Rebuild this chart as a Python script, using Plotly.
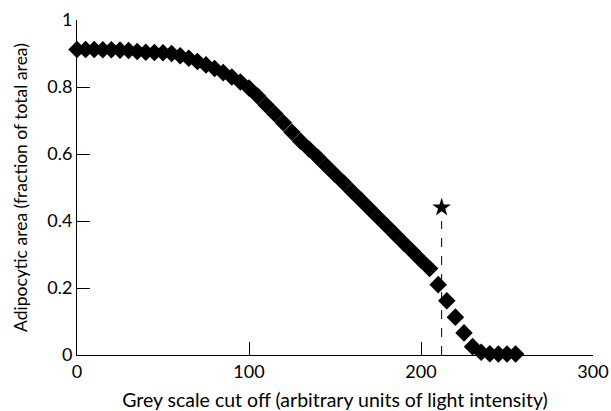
import plotly.graph_objects as go

grey_cutoff = list(range(0, 256, 5))
adipocytic_area = [
    0.912, 0.912, 0.912, 0.911, 0.911, 0.910, 0.909, 0.906, 0.904, 0.903,
    0.902, 0.900, 0.893, 0.886, 0.876, 0.866, 0.855, 0.843, 0.830, 0.815,
    0.797, 0.773, 0.746, 0.720, 0.693, 0.665, 0.638, 0.614, 0.590, 0.564,
    0.539, 0.514, 0.488, 0.463, 0.437, 0.411, 0.386, 0.360, 0.334, 0.309,
    0.283, 0.258, 0.210, 0.162, 0.113, 0.066, 0.025, 0.008, 0.004, 0.003,
    0.003, 0.003,
]
threshold_x = [212]
threshold_line_top = 0.40
star_y = [0.44]

x_ticks = [0, 100, 200, 300]
y_ticks = [0, 0.2, 0.4, 0.6, 0.8, 1]
y_ticklabels = ["0", "0.2", "0.4", "0.6", "0.8", "1"]

font_family = "Lato, 'Open Sans', sans-serif"

fig = go.Figure()
fig.add_trace(go.Scatter(
    x=grey_cutoff, y=adipocytic_area, mode="markers",
    marker=dict(symbol="diamond", size=13.5, color="black", line=dict(width=0)),
    cliponaxis=False, showlegend=False,
))
fig.add_trace(go.Scatter(
    x=threshold_x, y=star_y, mode="markers",
    marker=dict(symbol="star", size=14, color="black", line=dict(width=0)),
    cliponaxis=False, showlegend=False,
))
fig.add_shape(type="line", x0=threshold_x[0], x1=threshold_x[0], y0=0, y1=threshold_line_top,
              xref="x", yref="y", line=dict(color="black", width=1, dash="dash"))

fig.update_layout(
    width=611, height=411,
    margin=dict(l=77, r=18, t=20, b=56),
    paper_bgcolor="white", plot_bgcolor="white",
    font=dict(family=font_family, size=18, color="black"),
    xaxis=dict(
        range=[0, 300], tickvals=x_ticks, showgrid=False, zeroline=False,
        showline=True, linecolor="black", linewidth=1, automargin=False,
        ticks="inside", ticklen=13, tickcolor="black", tickwidth=1,
        title=dict(text="Grey scale cut off (arbitrary units of light intensity)", font=dict(size=19.5)),
    ),
    yaxis=dict(
        range=[0, 1], tickvals=y_ticks, ticktext=y_ticklabels, showgrid=False, zeroline=False,
        showline=True, linecolor="black", linewidth=1, automargin=False,
        ticks="inside", ticklen=13, tickcolor="black", tickwidth=1,
        title=dict(text="Adipocytic area (fraction of total area)", font=dict(size=17.5)),
    ),
)

fig.write_html("out.html")
